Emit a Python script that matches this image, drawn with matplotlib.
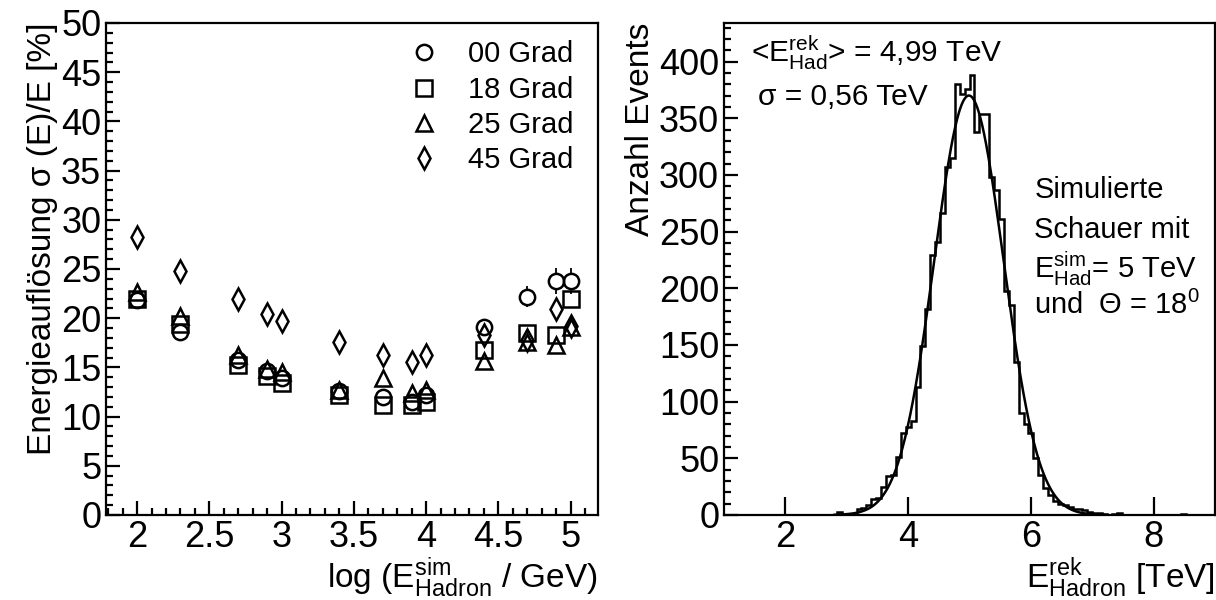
import numpy as np
import matplotlib
matplotlib.use("Agg")
import matplotlib.pyplot as plt
from matplotlib.ticker import MultipleLocator

plt.rcParams['font.family'] = ['Liberation Sans', 'DejaVu Sans']
plt.rcParams['mathtext.fontset'] = 'custom'
plt.rcParams['mathtext.rm'] = 'Liberation Sans'
plt.rcParams['mathtext.it'] = 'Liberation Sans'

# left panel: energy resolution vs log(E_sim)
log_e = [2.0, 2.3, 2.7, 2.9, 3.0, 3.4, 3.7, 3.9, 4.0, 4.4, 4.7, 4.9, 5.0]
res_00 = [21.8, 18.6, 15.8, 14.6, 13.9, 12.6, 12.0, 11.5, 12.2, 19.1, 22.2, 23.8, 23.8]
res_18 = [22.0, 19.4, 15.2, 14.1, 13.4, 12.2, 11.2, 11.2, 11.5, 16.8, 18.5, 18.3, 21.9]
res_25 = [22.7, 20.2, 16.3, 14.8, 14.5, 12.7, 13.9, 12.4, 12.7, 15.6, 17.6, 17.3, 19.1]
res_45 = [28.3, 24.8, 22.0, 20.4, 19.7, 17.6, 16.3, 15.5, 16.3, 18.3, 17.8, 20.9, 19.2]
err_00 = [0.3, 0.3, 0.3, 0.3, 0.3, 0.3, 0.3, 0.3, 0.3, 0.5, 1.1, 1.3, 1.3]
labels = ['00 Grad', '18 Grad', '25 Grad', '45 Grad']

# right panel: histogram of reconstructed hadron energy (bins of 0.08 TeV from 1 to 9)
bin_edges = np.linspace(1, 9, 101)
counts = [0] * 23 + [
    3, 0, 0, 1, 5, 6, 9, 14, 15, 25,
    34, 35, 51, 72, 78, 83, 113, 149, 182, 229,
    241, 266, 307, 315, 380, 371, 376, 388, 338, 354,
    354, 298, 287, 261, 198, 185, 135, 90, 80, 72,
    50, 35, 24, 18, 12, 10, 9, 7, 5, 5,
    4, 3, 2, 2, 1, 0, 1, 2, 0, 0,
    0, 0, 0, 0, 0, 0, 0, 0, 0, 0,
    1, 0, 0, 0, 0, 0, 0]
fit_amp, fit_mean, fit_sigma = 370, 4.99, 0.565

fig = plt.figure(figsize=(12.16, 6), dpi=100)
ax1 = fig.add_axes([0.0872, 0.1417, 0.4046, 0.82])
ax2 = fig.add_axes([0.5954, 0.1417, 0.4038, 0.82])

mk = dict(ls='none', mfc='none', mec='black', mew=1.8)
ax1.plot(log_e, res_00, marker='o', ms=11, label=labels[0], **mk)
ax1.plot(log_e, res_18, marker='s', ms=11, label=labels[1], **mk)
ax1.plot(log_e, res_25, marker='^', ms=12, label=labels[2], **mk)
ax1.plot(log_e, res_45, marker='d', ms=11, label=labels[3], **mk)

# error bars of the 0-degree points, drawn only outside the open circle
r_mk = 0.78
for x, y, e in zip(log_e, res_00, err_00):
    if e > r_mk:
        ax1.vlines([x, x], [y + r_mk, y - e], [y + e, y - r_mk], color='black', lw=1.3)

ax1.set_xlim(1.785, 5.19)
ax1.set_ylim(0, 50)
ax1.xaxis.set_minor_locator(MultipleLocator(0.1))
ax1.yaxis.set_major_locator(MultipleLocator(5))
ax1.yaxis.set_minor_locator(MultipleLocator(1))
ax1.set_xticks([2, 2.5, 3, 3.5, 4, 4.5, 5])
ax1.set_xticklabels(['2', '2.5', '3', '3.5', '4', '4.5', '5'])
ax1.set_ylabel('Energieauflösung σ (E)/E [%]', fontsize=24, loc='top', labelpad=2)
ax1.set_xlabel(r'log (E$^{\mathrm{sim}}_{\mathrm{Hadron}}$ / GeV)', fontsize=24, loc='right', labelpad=0)
ax1.legend(loc='upper right', bbox_to_anchor=(0.985, 1.0), frameon=False, fontsize=21,
           handlelength=1.2, handletextpad=0.9, labelspacing=0.25, borderaxespad=0.2)

# histogram + gaussian fit
ax2.stairs(counts, bin_edges, color='black', lw=1.8)
xf = np.linspace(2.8, 7.2, 400)
ax2.plot(xf, fit_amp * np.exp(-0.5 * ((xf - fit_mean) / fit_sigma) ** 2), color='black', lw=1.8)
ax2.set_xlim(1, 9)
ax2.set_ylim(0, 434)
ax2.xaxis.set_major_locator(MultipleLocator(2))
ax2.yaxis.set_major_locator(MultipleLocator(50))
ax2.yaxis.set_minor_locator(MultipleLocator(10))
ax2.set_ylabel('Anzahl Events', fontsize=24, loc='top', labelpad=2)
ax2.set_xlabel(r'E$^{\mathrm{rek}}_{\mathrm{Hadron}}$ [TeV]', fontsize=24, loc='right', labelpad=0)

ax2.text(0.055, 0.94, r'<E$^{\mathrm{rek}}_{\mathrm{Had}}$> = 4,99 TeV', transform=ax2.transAxes,
         fontsize=21.5, va='center', ha='left')
ax2.text(0.07, 0.85, 'σ = 0,56 TeV', transform=ax2.transAxes, fontsize=21.5, va='center', ha='left')
ax2.text(0.632, 0.66, 'Simulierte', transform=ax2.transAxes, fontsize=21, va='center', ha='left')
ax2.text(0.632, 0.58, 'Schauer mit', transform=ax2.transAxes, fontsize=21, va='center', ha='left')
ax2.text(0.632, 0.50, r'E$^{\mathrm{sim}}_{\mathrm{Had}}$= 5 TeV', transform=ax2.transAxes,
         fontsize=21, va='center', ha='left')
ax2.text(0.632, 0.425, r'und  Θ = 18$^{\mathrm{0}}$', transform=ax2.transAxes, fontsize=21, va='center', ha='left')

for ax in (ax1, ax2):
    for s in ax.spines.values():
        s.set_linewidth(1.6)
    ax.tick_params(which='both', direction='in', top=False, right=False, width=1.6, labelsize=26)
    ax.tick_params(which='major', length=10)
    ax.tick_params(which='minor', length=5)
ax2.tick_params(axis='x', which='major', length=13)

fig.savefig('out.png', dpi=100)
